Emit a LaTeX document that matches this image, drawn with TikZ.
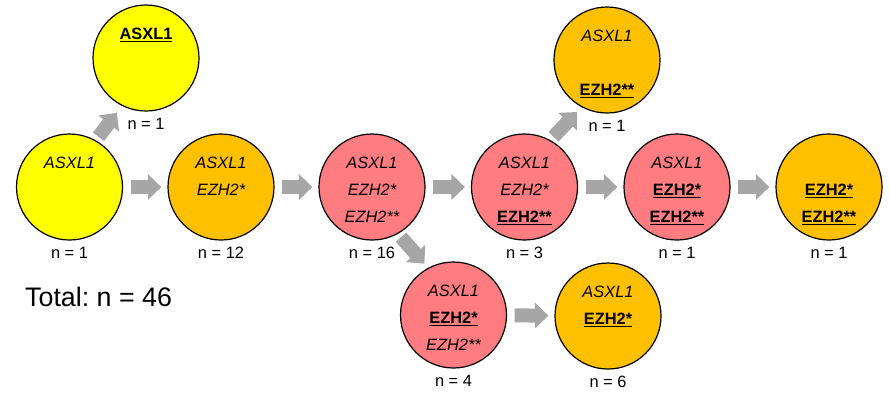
\documentclass[tikz,border=0pt]{standalone}
\usepackage{fontspec}
\setmainfont{Liberation Sans}
\usetikzlibrary{arrows.meta,calc}
\definecolor{cyel}{HTML}{FFFF00}
\definecolor{corg}{HTML}{FFC000}
\definecolor{cpink}{HTML}{FF7C80}
\definecolor{agray}{HTML}{A6A6A6}
\frenchspacing
% bold text with a heavier underline
\newcommand{\ulbf}[1]{\setbox0=\hbox{\bfseries #1}\rlap{\rule[-3pt]{\wd0}{1.3pt}}\box0}
\begin{document}
\begin{tikzpicture}[x=1pt,y=1pt,
  circ/.style={circle, draw=black, line width=1.2pt, minimum size=106pt, inner sep=0pt},
  gene/.style={anchor=base, inner sep=0pt, font=\fontsize{16.4}{19}\selectfont},
  count/.style={anchor=base, inner sep=0pt, font=\fontsize{16.4}{19}\selectfont},
  garrow/.style={draw=agray, line width=14pt, -{Triangle[length=13.5pt,width=25pt]}},
  hshort/.style={shorten <=7.5pt, shorten >=6pt},
]
\useasboundingbox (0,0) rectangle (890,-392);

% clones
\node[circ, fill=cyel]  (A) at (146,-58) {};
\node[circ, fill=cyel]  (B) at (69.5,-187) {};
\node[circ, fill=corg]  (C) at (221,-187) {};
\node[circ, fill=cpink] (D) at (372,-187) {};
\node[circ, fill=cpink] (E) at (524.5,-187) {};
\node[circ, fill=corg]  (F) at (607,-60) {};
\node[circ, fill=cpink] (G) at (677,-187) {};
\node[circ, fill=corg]  (H) at (829,-187) {};
\node[circ, fill=cpink] (I) at (453.5,-315) {};
\node[circ, fill=corg]  (J) at (608,-316) {};

% mutations inside each clone
\node[gene] (A1) at ([yshift=19pt]A.center) {\ulbf{ASXL1}};

\node[gene] (B1) at ([yshift=19pt]B.center) {\itshape ASXL1};

\node[gene] (C1) at ([yshift=19pt]C.center) {\itshape ASXL1};
\node[gene] (C2) at ([yshift=-8pt]C.center) {\itshape EZH2*};

\node[gene] (D1) at ([yshift=19pt]D.center) {\itshape ASXL1};
\node[gene] (D2) at ([yshift=-8pt]D.center) {\itshape EZH2*};
\node[gene] (D3) at ([yshift=-35pt]D.center) {\itshape EZH2**};

\node[gene] (E1) at ([yshift=19pt]E.center) {\itshape ASXL1};
\node[gene] (E2) at ([yshift=-8pt]E.center) {\itshape EZH2*};
\node[gene] (E3) at ([yshift=-35pt]E.center) {\ulbf{EZH2**}};

\node[gene] (F1) at ([yshift=19pt]F.center) {\itshape ASXL1};
\node[gene] (F3) at ([yshift=-35pt]F.center) {\ulbf{EZH2**}};

\node[gene] (G1) at ([yshift=19pt]G.center) {\itshape ASXL1};
\node[gene] (G2) at ([yshift=-8pt]G.center) {\ulbf{EZH2*}};
\node[gene] (G3) at ([yshift=-35pt]G.center) {\ulbf{EZH2**}};

\node[gene] (H2) at ([yshift=-8pt]H.center) {\ulbf{EZH2*}};
\node[gene] (H3) at ([yshift=-35pt]H.center) {\ulbf{EZH2**}};

\node[gene] (I1) at ([yshift=19pt]I.center) {\itshape ASXL1};
\node[gene] (I2) at ([yshift=-8pt]I.center) {\ulbf{EZH2*}};
\node[gene] (I3) at ([yshift=-35pt]I.center) {\itshape EZH2**};

\node[gene] (J1) at ([yshift=19pt]J.center) {\itshape ASXL1};
\node[gene] (J2) at ([yshift=-8pt]J.center) {\ulbf{EZH2*}};

% patient counts
\node[count] (An) at ([yshift=-71pt]A.center) {n = 1};
\node[count] (Bn) at ([yshift=-71pt]B.center) {n = 1};
\node[count] (Cn) at ([yshift=-71pt]C.center) {n = 12};
\node[count] (Dn) at ([yshift=-71pt]D.center) {n = 16};
\node[count] (En) at ([yshift=-71pt]E.center) {n = 3};
\node[count] (Fn) at ([yshift=-71pt]F.center) {n = 1};
\node[count] (Gn) at ([yshift=-71pt]G.center) {n = 1};
\node[count] (Hn) at ([yshift=-71pt]H.center) {n = 1};
\node[count] (In) at ([yshift=-71pt]I.center) {n = 4};
\node[count] (Jn) at ([yshift=-71pt]J.center) {n = 6};

\node[anchor=base west, inner sep=0pt, font=\fontsize{26.8}{32}\selectfont] (total) at (25,-306) {Total: n = 46};

% evolution arrows
\draw[garrow, hshort] (B) -- (C);
\draw[garrow, hshort] (C) -- (D);
\draw[garrow, hshort] (D) -- (E);
\draw[garrow, hshort] (E) -- (G);
\draw[garrow, hshort] (G) -- (H);
\draw[garrow, hshort] (I) -- (J);
\draw[garrow] ($(B)+(60:58)$) -- ($(A)+(242:62)$);
\draw[garrow] ($(E)+(60:58)$) -- ($(F)+(240:60)$);
\draw[garrow] ($(D)+(-60:58)$) -- ($(I)+(119.5:59)$);
\end{tikzpicture}
\end{document}
